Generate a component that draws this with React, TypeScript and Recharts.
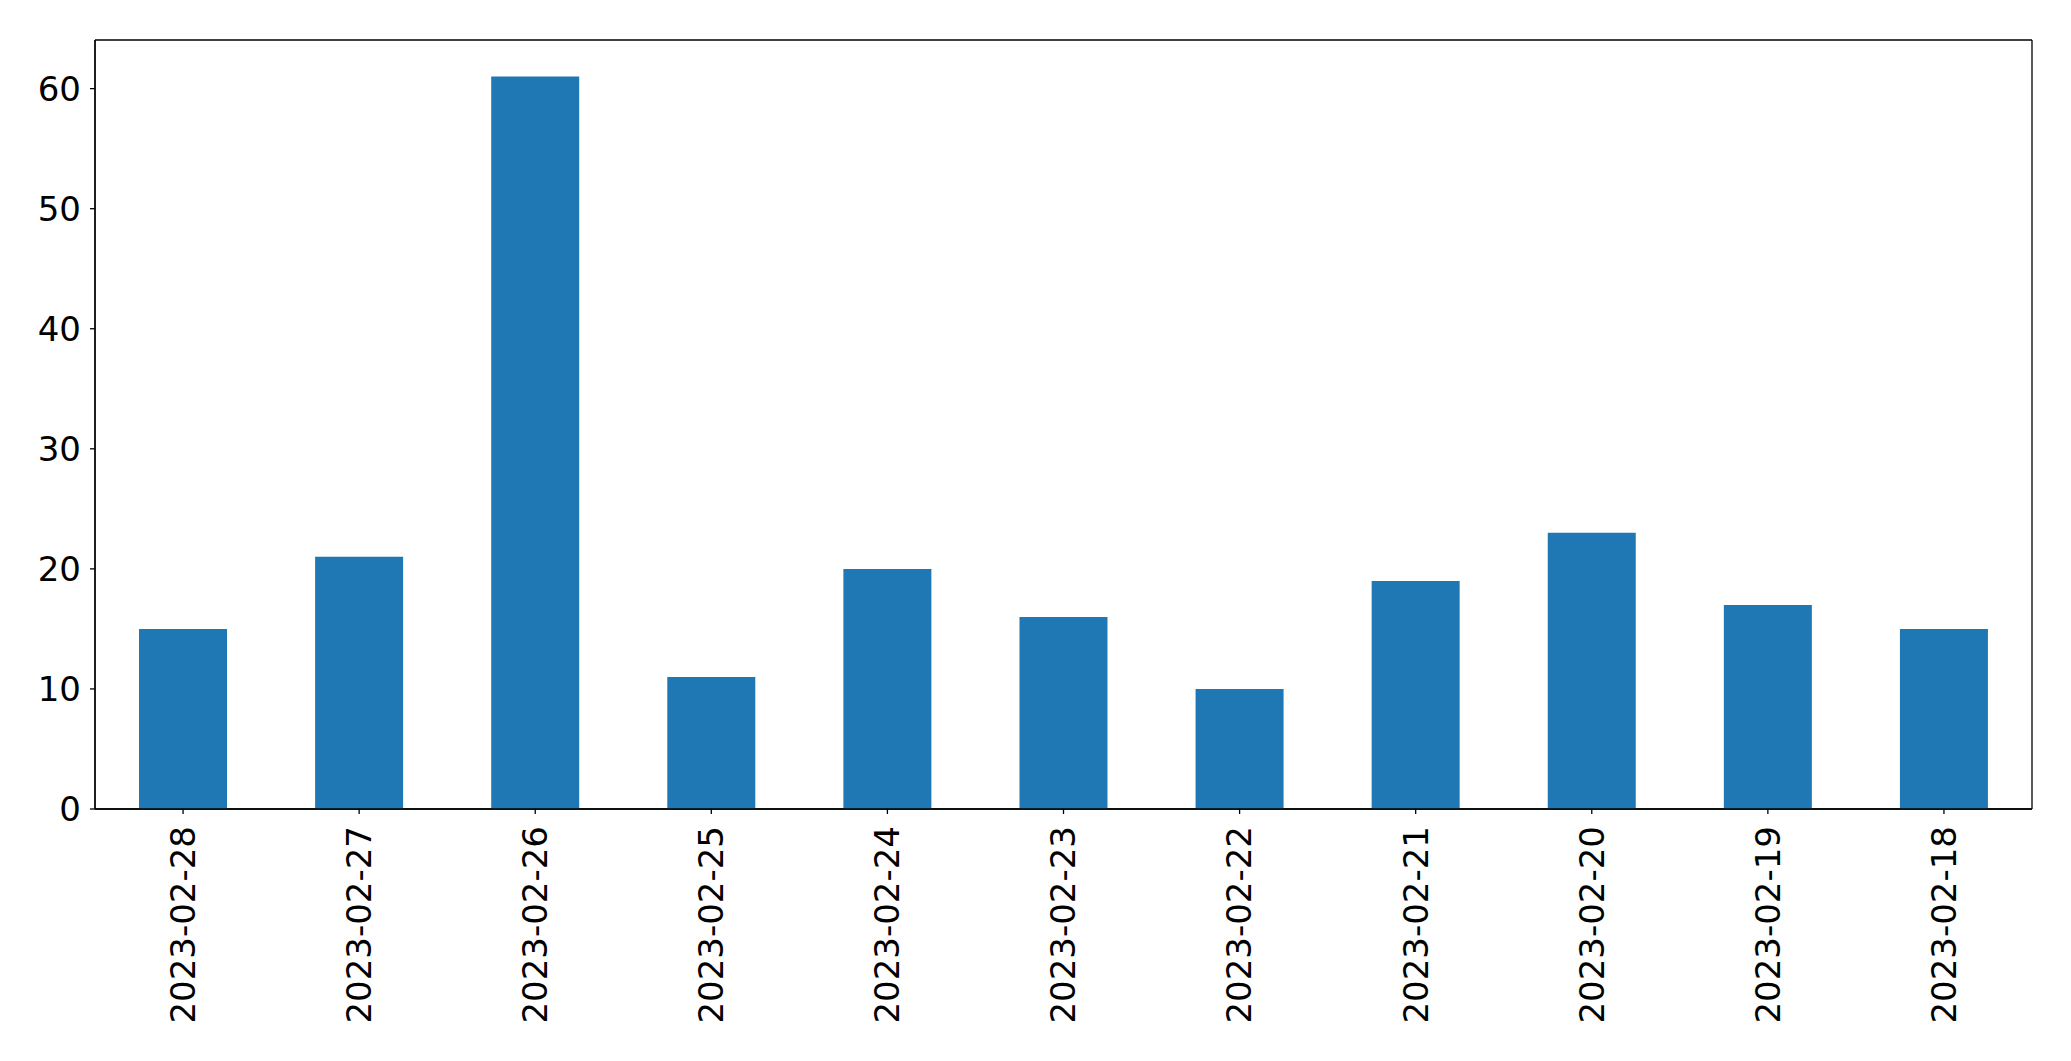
import React from 'react';
import { BarChart, Bar, XAxis, YAxis, CartesianGrid } from 'recharts';

// values
const dates = [
  '2023-02-28', '2023-02-27', '2023-02-26', '2023-02-25', '2023-02-24', '2023-02-23',
  '2023-02-22', '2023-02-21', '2023-02-20', '2023-02-19', '2023-02-18',
];
const counts = [15, 21, 61, 11, 20, 16, 10, 19, 23, 17, 15];
const yTicks = [0, 10, 20, 30, 40, 50, 60];

const FONT = '"DejaVu Sans", sans-serif';

const data = dates.map((d, i) => ({ date: d, count: counts[i] }));

const DateTick = (props: any) => {
  const { x, y, payload } = props;
  return (
    <g transform={`translate(${x},${y})`}>
      <text
        transform="rotate(-90)"
        x={-12}
        dy="0.35em"
        textAnchor="end"
        fill="#000"
        fontSize={34}
        fontFamily={FONT}
      >
        {payload.value}
      </text>
    </g>
  );
};

const ValueTick = (props: any) => {
  const { x, y, payload } = props;
  return (
    <text x={x} y={y} dy="0.35em" textAnchor="end" fill="#000" fontSize={34} fontFamily={FONT}>
      {payload.value}
    </text>
  );
};

// frame round the plot area: grid lines only at the plot edges
const frameH = ({ offset }: any) => [offset.top, offset.top + offset.height];
const frameV = ({ offset }: any) => [offset.left, offset.left + offset.width];

export default function App() {
  return (
    <div style={{ position: 'absolute', left: 0, top: 0, background: '#fff' }}>
      <BarChart
        width={2071}
        height={1061}
        data={data}
        margin={{ top: 40, right: 39, left: 0, bottom: 0 }}
        barCategoryGap="25%"
      >
        <CartesianGrid
          stroke="#000"
          strokeWidth={1.3}
          horizontalCoordinatesGenerator={frameH}
          verticalCoordinatesGenerator={frameV}
        />
        <XAxis
          dataKey="date"
          height={252}
          interval={0}
          tickSize={5}
          tickMargin={0}
          tick={<DateTick />}
          axisLine={{ stroke: '#000', strokeWidth: 1.3 }}
          tickLine={{ stroke: '#000', strokeWidth: 1.3 }}
        />
        <YAxis
          width={95}
          domain={[0, 64.05]}
          ticks={yTicks}
          interval={0}
          tickSize={5}
          tickMargin={9}
          tick={<ValueTick />}
          axisLine={{ stroke: '#000', strokeWidth: 1.3 }}
          tickLine={{ stroke: '#000', strokeWidth: 1.3 }}
        />
        <Bar dataKey="count" fill="#1f77b4" isAnimationActive={false} />
      </BarChart>
    </div>
  );
}
